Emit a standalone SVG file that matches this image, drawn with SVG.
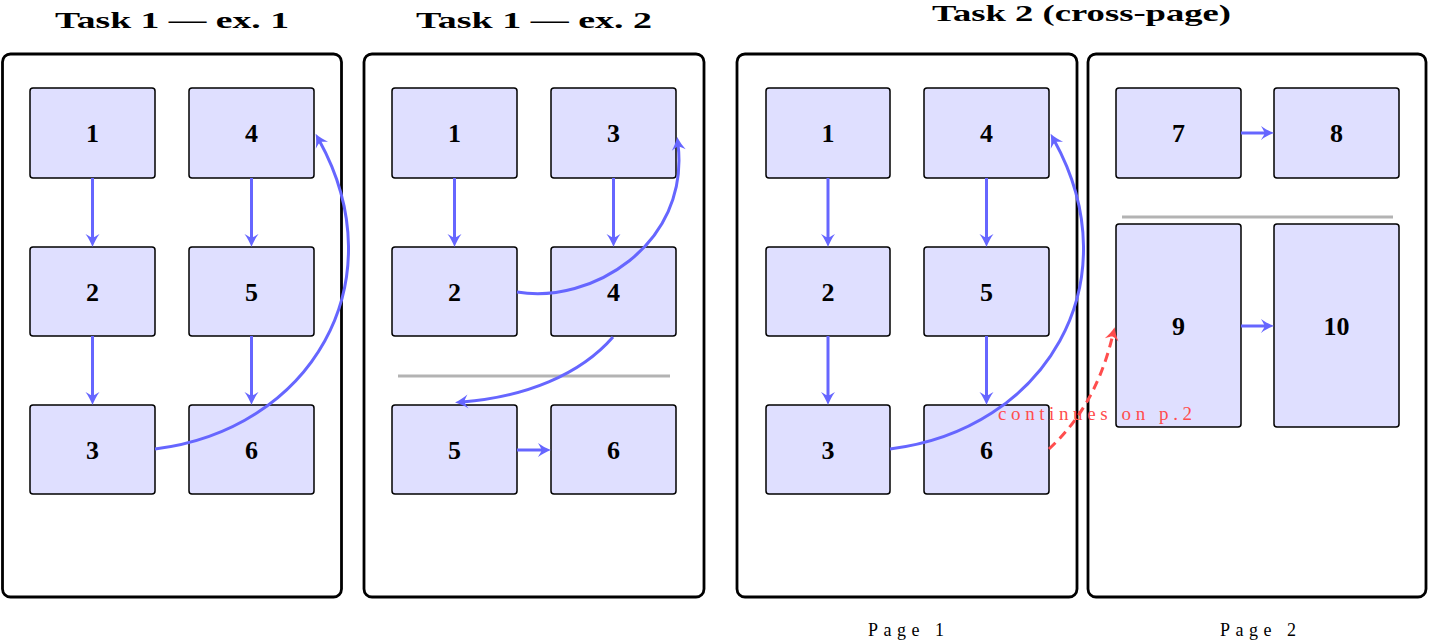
<svg xmlns="http://www.w3.org/2000/svg" width="1430" height="641" viewBox="0 0 1430 641">
<style>
.panel{fill:#ffffff;stroke:#000;stroke-width:2.8}
.box{fill:#dfdfff;stroke:#000;stroke-width:1.5}
.num{font-family:"Liberation Serif",serif;font-weight:bold;font-size:26px;text-anchor:middle;fill:#000}
.title{font-family:"Liberation Serif",serif;font-weight:bold;font-size:23px;fill:#000}
.page{font-family:"Liberation Serif",serif;font-size:18px;fill:#000}
.sep{stroke:#b3b3b3;stroke-width:3}
.arr{fill:none;stroke:#6666ff;stroke-width:3;marker-end:url(#ah)}
.red{fill:none;stroke:#ff4d4d;stroke-width:3;stroke-dasharray:9,6;marker-end:url(#ahr)}
.lbl{font-family:"Liberation Serif",serif;font-size:19px;fill:#ff4d4d}
</style>
<defs>
<marker id="ah" viewBox="-16 -9 20 18" markerWidth="20" markerHeight="18" refX="-6" refY="0" orient="auto" markerUnits="userSpaceOnUse"><path d="M1,0 C-4,-2 -8,-4 -12,-7 C-9.5,-3 -8.5,-1 -8.5,0 C-8.5,1 -9.5,3 -12,7 C-8,4 -4,2 1,0 Z" fill="#6666ff"/></marker>
<marker id="ahr" viewBox="-16 -9 20 18" markerWidth="20" markerHeight="18" refX="-6" refY="0" orient="auto" markerUnits="userSpaceOnUse"><path d="M1,0 C-4,-2 -8,-4 -12,-7 C-9.5,-3 -8.5,-1 -8.5,0 C-8.5,1 -9.5,3 -12,7 C-8,4 -4,2 1,0 Z" fill="#ff4d4d"/></marker>
</defs>
<rect width="1430" height="641" fill="#fff"/>
<g id="titles">
<text class="title" x="55" y="28" textLength="234" lengthAdjust="spacingAndGlyphs">Task 1 — ex. 1</text>
<text class="title" x="416" y="28" textLength="236" lengthAdjust="spacingAndGlyphs">Task 1 — ex. 2</text>
<text class="title" x="932" y="21" textLength="299" lengthAdjust="spacingAndGlyphs">Task 2 (cross-page)</text>
<text class="page" x="868" y="636" textLength="76" lengthAdjust="spacing">Page 1</text>
<text class="page" x="1220" y="636" textLength="76" lengthAdjust="spacing">Page 2</text>
</g>
<g id="panels">
<rect class="panel" x="2.5" y="54" width="339" height="543" rx="8"/>
<rect class="panel" x="364" y="54" width="340" height="543" rx="8"/>
<rect class="panel" x="737" y="54" width="340" height="543" rx="8"/>
<rect class="panel" x="1088" y="54" width="338" height="543" rx="8"/>
<line class="sep" x1="398" y1="376" x2="670" y2="376"/>
<line class="sep" x1="1122" y1="217" x2="1393" y2="217"/>
</g>
<g id="p1n1"><rect class="box" x="30" y="88" width="125" height="90" rx="3"/><text class="num" x="92.5" y="142">1</text></g>
<g id="p1n2"><rect class="box" x="30" y="247" width="125" height="89" rx="3"/><text class="num" x="92.5" y="301">2</text></g>
<g id="p1n3"><rect class="box" x="30" y="405" width="125" height="89" rx="3"/><text class="num" x="92.5" y="459">3</text></g>
<g id="p1n4"><rect class="box" x="189" y="88" width="125" height="90" rx="3"/><text class="num" x="251.5" y="142">4</text></g>
<g id="p1n5"><rect class="box" x="189" y="247" width="125" height="89" rx="3"/><text class="num" x="251.5" y="301">5</text></g>
<g id="p1n6"><rect class="box" x="189" y="405" width="125" height="89" rx="3"/><text class="num" x="251.5" y="459">6</text></g>
<g id="p2n1"><rect class="box" x="392" y="88" width="125" height="90" rx="3"/><text class="num" x="454.5" y="142">1</text></g>
<g id="p2n2"><rect class="box" x="392" y="247" width="125" height="89" rx="3"/><text class="num" x="454.5" y="301">2</text></g>
<g id="p2n3"><rect class="box" x="551" y="88" width="125" height="90" rx="3"/><text class="num" x="613.5" y="142">3</text></g>
<g id="p2n4"><rect class="box" x="551" y="247" width="125" height="89" rx="3"/><text class="num" x="613.5" y="301">4</text></g>
<g id="p2n5"><rect class="box" x="392" y="405" width="125" height="89" rx="3"/><text class="num" x="454.5" y="459">5</text></g>
<g id="p2n6"><rect class="box" x="551" y="405" width="125" height="89" rx="3"/><text class="num" x="613.5" y="459">6</text></g>
<g id="p3n1"><rect class="box" x="766" y="88" width="124" height="90" rx="3"/><text class="num" x="828" y="142">1</text></g>
<g id="p3n2"><rect class="box" x="766" y="247" width="124" height="89" rx="3"/><text class="num" x="828" y="301">2</text></g>
<g id="p3n3"><rect class="box" x="766" y="405" width="124" height="89" rx="3"/><text class="num" x="828" y="459">3</text></g>
<g id="p3n4"><rect class="box" x="924" y="88" width="125" height="90" rx="3"/><text class="num" x="986.5" y="142">4</text></g>
<g id="p3n5"><rect class="box" x="924" y="247" width="125" height="89" rx="3"/><text class="num" x="986.5" y="301">5</text></g>
<g id="p3n6"><rect class="box" x="924" y="405" width="125" height="89" rx="3"/><text class="num" x="986.5" y="459">6</text></g>
<g id="p4n7"><rect class="box" x="1116" y="88" width="125" height="90" rx="3"/><text class="num" x="1178.5" y="142">7</text></g>
<g id="p4n8"><rect class="box" x="1274" y="88" width="125" height="90" rx="3"/><text class="num" x="1336.5" y="142">8</text></g>
<g id="p4n9"><rect class="box" x="1116" y="224" width="125" height="203" rx="3"/><text class="num" x="1178.5" y="335">9</text></g>
<g id="p4n10"><rect class="box" x="1274" y="224" width="125" height="203" rx="3"/><text class="num" x="1336.5" y="335">10</text></g>
<g id="connectors">
<path class="arr" d="M92.5,178 V240"/>
<path class="arr" d="M92.5,336 V398"/>
<path class="arr" d="M251.5,178 V240"/>
<path class="arr" d="M251.5,336 V398"/>
<path class="arr" d="M155,449 C310,430 398,283 319,140"/>
<path class="arr" d="M454.5,178 V240"/>
<path class="arr" d="M613.5,178 V240"/>
<path class="arr" d="M517,292 C590,305 690,245 678,144"/>
<path class="arr" d="M613,337 C580,375 525,397 462,402"/>
<path class="arr" d="M517,450 H544"/>
<path class="arr" d="M828,178 V240"/>
<path class="arr" d="M828,336 V398"/>
<path class="arr" d="M986.5,178 V240"/>
<path class="arr" d="M986.5,336 V398"/>
<path class="arr" d="M890,449 C1045,430 1133,283 1054,140"/>
<path class="arr" d="M1241,133 H1267"/>
<path class="arr" d="M1241,326 H1267"/>
<path class="red" d="M1049,449 C1075,425 1100,390 1113,334"/>
<text class="lbl" x="998" y="420" textLength="194" lengthAdjust="spacing">continues on p.2</text>
</g>
</svg>
